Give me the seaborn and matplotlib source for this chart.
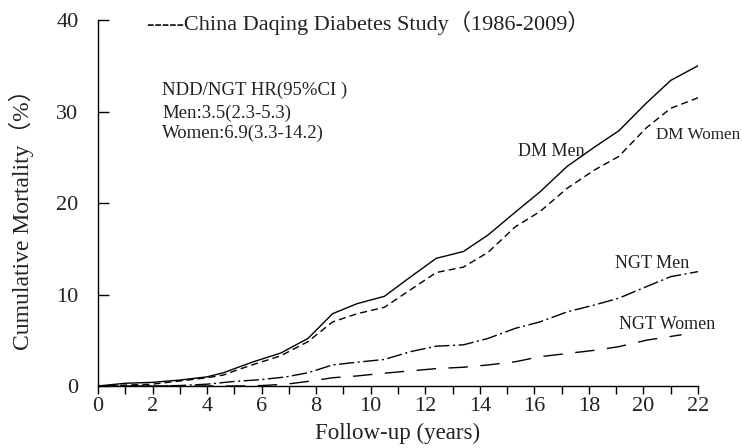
import numpy as np
import pandas as pd
import matplotlib
matplotlib.use("Agg")
import matplotlib.pyplot as plt
from matplotlib.ticker import MultipleLocator
import seaborn as sns

# Cumulative mortality (%) by follow-up year for each group
dm_men_t = [0, 1, 2, 3, 4, 4.6, 5.1, 5.7, 6.7, 7.7, 8.6, 9.5, 10.5, 11.45, 12.4,
            13.4, 14.3, 15.3, 16.2, 17.2, 18.2, 19.1, 20.1, 21.0, 22.0]
dm_men = [0, 0.3, 0.4, 0.65, 1.0, 1.45, 2.0, 2.65, 3.6, 5.2, 7.9, 9.0, 9.8, 11.9, 13.95,
          14.7, 16.5, 19.0, 21.2, 24.0, 26.1, 27.9, 30.9, 33.4, 35.0]

dm_women_t = [0, 1, 2, 3, 4, 4.6, 5.1, 5.7, 6.7, 7.7, 8.6, 9.5, 10.5, 11.45, 12.4,
              13.4, 14.3, 15.3, 16.2, 17.2, 18.2, 19.1, 20.1, 21.0, 22.0]
dm_women = [0, 0.1, 0.2, 0.55, 0.9, 1.2, 1.75, 2.35, 3.3, 4.85, 7.0, 7.9, 8.6, 10.5, 12.4,
            13.0, 14.6, 17.4, 19.05, 21.6, 23.6, 25.1, 28.2, 30.35, 31.5]

ngt_men_t = [0, 2, 3, 4, 5.0, 6.0, 6.9, 7.7, 8.6, 9.5, 10.5, 11.45, 12.4, 13.4, 14.3,
             15.3, 16.2, 17.2, 18.2, 19.1, 20.1, 21.0, 22.0]
ngt_men = [0, 0, 0.05, 0.2, 0.5, 0.7, 1.0, 1.45, 2.3, 2.6, 2.9, 3.75, 4.35, 4.5, 5.2,
           6.3, 7.0, 8.1, 8.85, 9.6, 10.85, 11.95, 12.5]

ngt_women_t = [0, 3, 5, 6.0, 6.9, 7.7, 8.6, 9.5, 10.5, 11.45, 12.4, 13.4, 14.3, 15.3,
               16.2, 17.2, 18.2, 19.1, 20.1, 21.4]
ngt_women = [0, 0, 0, 0.05, 0.2, 0.5, 0.9, 1.1, 1.4, 1.65, 1.9, 2.05, 2.3, 2.65,
             3.2, 3.55, 3.9, 4.3, 5.0, 5.6]

groups = ["DM Men", "DM Women", "NGT Men", "NGT Women"]
x_ticks = [0, 2, 4, 6, 8, 10, 12, 14, 16, 18, 20, 22]
y_ticks = [0, 10, 20, 30, 40]

frames = []
for name, t, v in zip(groups,
                      [dm_men_t, dm_women_t, ngt_men_t, ngt_women_t],
                      [dm_men, dm_women, ngt_men, ngt_women]):
    frames.append(pd.DataFrame({"year": t, "mortality": v, "group": name}))
df = pd.concat(frames, ignore_index=True)

sns.set_style("ticks")
FONT = ["Liberation Serif", "Noto Sans CJK SC"]
plt.rcParams["font.family"] = FONT
plt.rcParams["font.size"] = 14

fig = plt.figure(figsize=(7.42, 4.48), dpi=100)
ax = fig.add_axes([98 / 742, 1 - 386 / 448, 600 / 742, 366 / 448])

dashes = {
    "DM Men": "",
    "DM Women": (5, 3),
    "NGT Men": (11, 2.5, 1.5, 2.5),
    "NGT Women": (14, 9),
}
sns.lineplot(data=df, x="year", y="mortality", style="group", style_order=groups,
             dashes=dashes, color="black", linewidth=1.0, estimator=None,
             sort=False, legend=False, ax=ax)

ax.set_xlim(0, 22)
ax.set_ylim(0, 40)
ax.set_xticks(x_ticks)
ax.set_yticks(y_ticks)
ax.xaxis.set_minor_locator(MultipleLocator(1))
ax.tick_params(axis="x", which="both", direction="out", length=6, width=1,
               color="black", labelsize=16, pad=2)
ax.tick_params(axis="y", which="both", direction="in", length=8, width=1,
               color="black", labelsize=16, pad=14)
for lbl in ax.get_xticklabels() + ax.get_yticklabels():
    lbl.set_color("#222222")

for side in ["top", "right"]:
    ax.spines[side].set_visible(False)
for side in ["left", "bottom"]:
    ax.spines[side].set_color("black")
    ax.spines[side].set_linewidth(1.0)

ax.set_xlabel("Follow-up (years)", fontsize=16.5, color="#222222", labelpad=5)
ax.set_ylabel("Cumulative Mortality（%）", fontsize=17, color="#222222")
ax.yaxis.set_label_coords(-0.106, 0.47)

txt = dict(color="#222222", va="center", ha="left", family=FONT)
ax.text(1.81, 39.7, "-----China Daqing Diabetes Study（1986-2009）", fontsize=16, **txt)
ax.text(2.36, 32.3, "NDD/NGT HR(95%CI )", fontsize=13.5, **txt)
ax.text(2.36, 29.8, "Men:3.5(2.3-5.3)", fontsize=13.5, **txt)
ax.text(2.36, 27.6, "Women:6.9(3.3-14.2)", fontsize=13.5, **txt)
ax.text(15.4, 25.6, "DM Men", fontsize=13, **txt)
ax.text(20.45, 27.4, "DM Women", fontsize=12.3, **txt)
ax.text(18.97, 13.4, "NGT Men", fontsize=13, **txt)
ax.text(19.12, 6.7, "NGT Women", fontsize=13, **txt)

fig.savefig("out.png", dpi=100)
